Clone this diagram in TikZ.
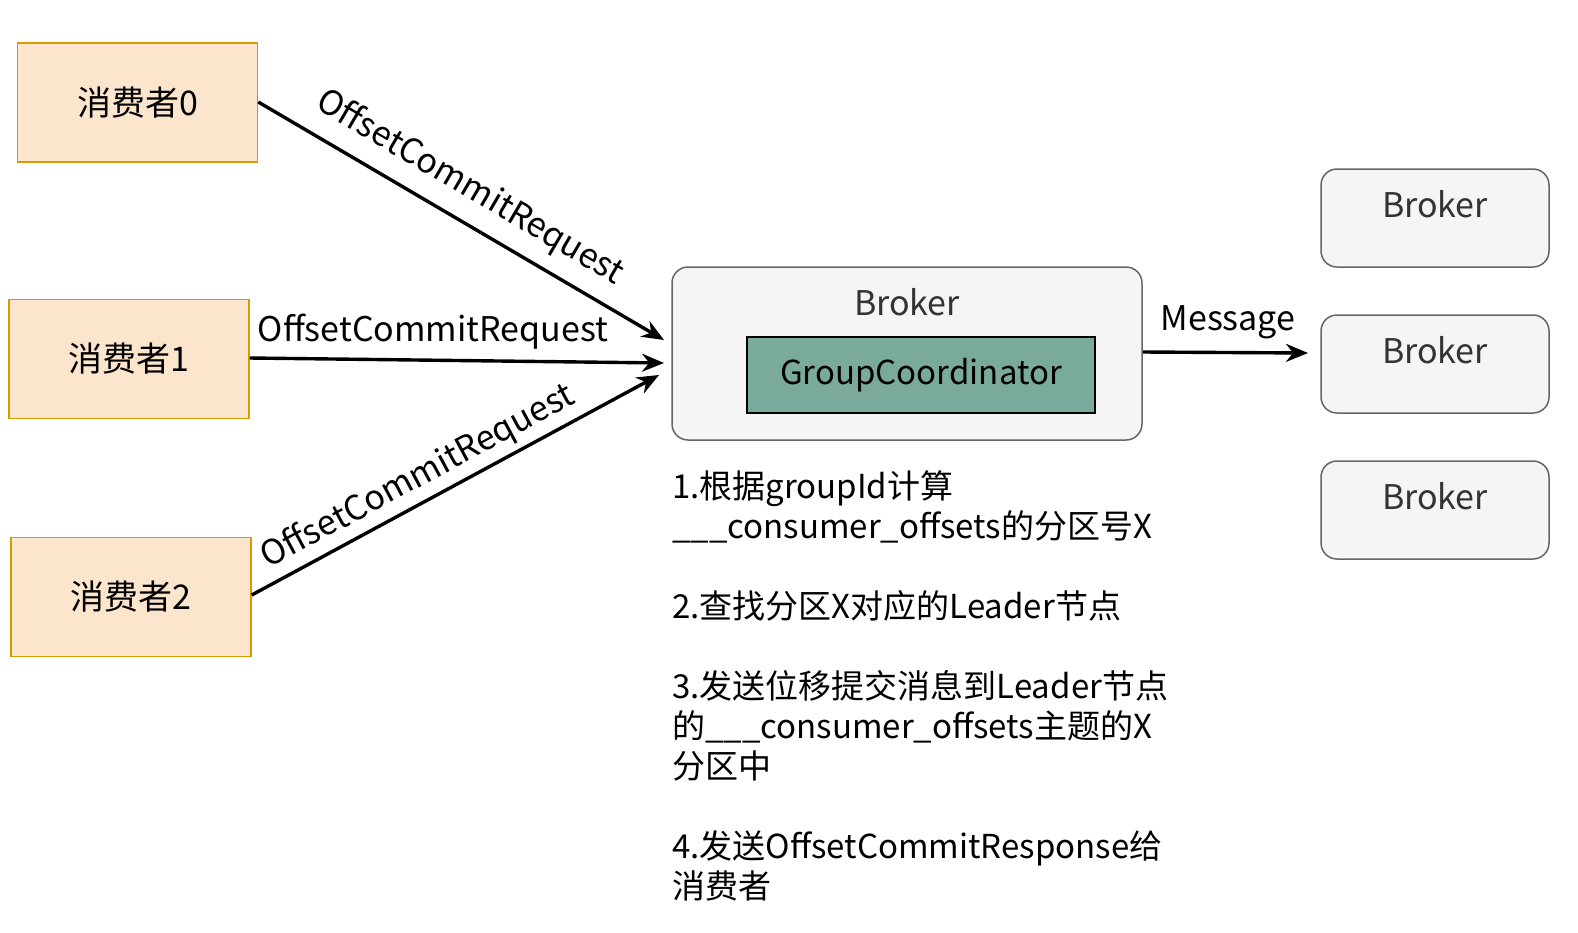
\documentclass[tikz,border=0pt]{standalone}
\usepackage{fontspec}
\setmainfont{Noto Sans CJK SC}
\usetikzlibrary{arrows.meta}
\definecolor{consfill}{HTML}{FCE5CD}
\definecolor{consdraw}{HTML}{D79B00}
\definecolor{brkfill}{HTML}{F5F5F5}
\definecolor{brkdraw}{HTML}{666666}
\definecolor{gcfill}{HTML}{7AAA9B}
\definecolor{brktext}{HTML}{333333}
\tikzset{
  consumer/.style={draw=consdraw, fill=consfill, line width=1.5pt, minimum width=240pt, minimum height=119pt, inner sep=0pt, font=\fontsize{34}{40}\selectfont},
  brokerbox/.style={draw=brkdraw, fill=brkfill, line width=1.5pt, rounded corners=16pt, inner sep=0pt},
  gcbox/.style={draw=black, fill=gcfill, line width=1.5pt, minimum width=348pt, minimum height=76pt, inner sep=0pt, font=\fontsize{33}{38}\selectfont},
  brklabel/.style={text=brktext, font=\fontsize{34}{40}\selectfont},
  arr/.style={line width=3.4pt, -{Stealth[length=22pt,width=18pt]}},
  edgelabel/.style={font=\fontsize{34}{40}\selectfont, inner sep=0pt},
  steps/.style={font=\fontsize{33}{40}\selectfont, align=left, anchor=north west, inner sep=0pt}
}
\begin{document}
\begin{tikzpicture}[x=1pt,y=-1pt]
\useasboundingbox (0,0) rectangle (1578,932);
% consumers
\node[consumer] (c0) at (137.5,102.5) {消费者0};
\node[consumer] (c1) at (129,359) {消费者1};
\node[consumer] (c2) at (131,597) {消费者2};
% main broker
\draw[brokerbox] (672,267) rectangle (1142,440);
\node[brklabel] (mb) at (907,302) {Broker};
\node[gcbox] (gc) at (921,375) {GroupCoordinator};
\coordinate (mbl0) at (664,340);
\coordinate (mbl1) at (664,363);
\coordinate (mbl2) at (659,375);
\coordinate (mbr) at (1143,352);
% right brokers
\draw[brokerbox] (1321,169) rectangle (1549,267);
\draw[brokerbox] (1321,315) rectangle (1549,413);
\draw[brokerbox] (1321,461) rectangle (1549,559);
\node[brklabel] (b1) at (1435,204) {Broker};
\node[brklabel] (b2) at (1435,350) {Broker};
\node[brklabel] (b3) at (1435,496) {Broker};
\coordinate (b2l) at (1308,353);
% arrows
\draw[arr] (c0.east |- 0,102) -- (mbl0);
\draw[arr] (c1.east |- 0,358) -- (mbl1);
\draw[arr] (c2.east |- 0,595) -- (mbl2);
\draw[arr] (mbr) -- (b2l);
% labels
\node[edgelabel, rotate=-30.4] (l0) at (470,188) {OffsetCommitRequest};
\node[edgelabel] (l1) at (433,332) {OffsetCommitRequest};
\node[edgelabel, rotate=28.3] (l2) at (418,477) {OffsetCommitRequest};
\node[edgelabel] (lm) at (1228,322) {Message};
% steps text
\node[steps] (t) at (672,470) {1.根据groupId计算\\\_\_\_consumer\_offsets的分区号X\\[40pt]2.查找分区X对应的Leader节点\\[40pt]3.发送位移提交消息到Leader节点\\的\_\_\_consumer\_offsets主题的X\\分区中\\[40pt]4.发送OffsetCommitResponse给\\消费者};
\end{tikzpicture}
\end{document}
